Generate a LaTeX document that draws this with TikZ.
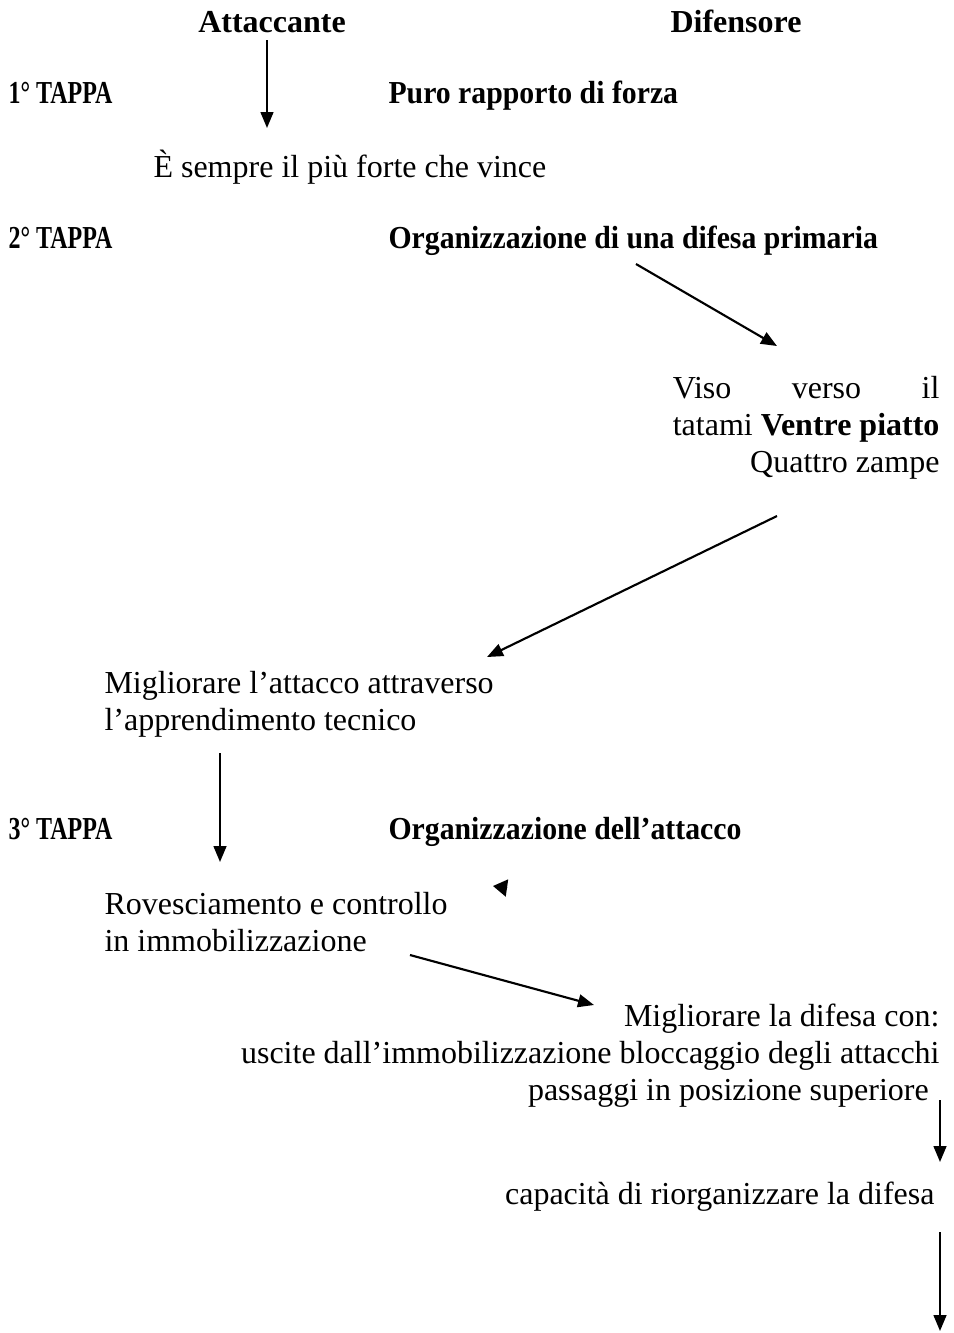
\documentclass[tikz,border=0pt]{standalone}
\usepackage{fontspec}
\setmainfont{Liberation Serif}
\newfontfamily\tappafont{Liberation Serif}[FakeStretch=0.75]
\newfontfamily\titolofont{Liberation Serif}[FakeStretch=0.93]
\usepackage{tikz}
\usetikzlibrary{arrows.meta}
\newlength\visow

\begin{document}
\settowidth{\visow}{\fontsize{12}{13.8}\selectfont tatami \textbf{Ventre piatto}}
\begin{tikzpicture}[x=0.375pt,y=-0.375pt,
    testo/.style={inner sep=0pt, font=\fontsize{12}{13.8}\selectfont},
    colonna/.style={inner sep=0pt, anchor=base, font=\fontsize{12}{13.8}\selectfont\bfseries},
    tappa/.style={inner sep=0pt, anchor=base west, font=\fontsize{12}{13.8}\selectfont\tappafont\bfseries},
    titolo/.style={inner sep=0pt, anchor=base west, font=\fontsize{12}{13.8}\selectfont\titolofont\bfseries},
    freccia/.style={line width=0.8pt, -{Triangle[length=6pt,width=4.8pt]}}]
  \useasboundingbox (0,0) rectangle (954,1333);

  \node[colonna] (att) at (272,32) {Attaccante};
  \node[colonna] (dif) at (736,32) {Difensore};

  \node[tappa] (t_1) at (8,103) {1° TAPPA};
  \node[titolo] (f_1) at (388,103) {Puro rapporto di forza};
  \node[testo, anchor=base west] (vince) at (153,177) {È sempre il più forte che vince};

  \node[tappa] (t_2) at (8,248) {2° TAPPA};
  \node[titolo] (f_2) at (388,248) {Organizzazione di una difesa primaria};
  % ancora base = ultima riga
  \node[testo, anchor=base east, align=right] (viso) at (940,472)
    {\makebox[\visow][s]{Viso verso il}\\tatami \textbf{Ventre piatto}\\Quattro zampe};
  \node[testo, anchor=base west, align=left] (tecnica) at (104,730)
    {Migliorare l’attacco attraverso\\l’apprendimento tecnico};

  \node[tappa] (t_3) at (8,839) {3° TAPPA};
  \node[titolo] (f_3) at (388,839) {Organizzazione dell’attacco};
  \node[testo, anchor=base west, align=left] (rovescio) at (104,951)
    {Rovesciamento e controllo\\in immobilizzazione};
  \node[testo, anchor=base east, align=right] (difesa) at (940,1100)
    {Migliorare la difesa con:\\uscite dall’immobilizzazione bloccaggio degli attacchi\\passaggi in posizione superiore\hspace*{4pt}};
  \node[testo, anchor=base east] (riorg) at (935,1204) {capacità di riorganizzare la difesa};

  % estremi delle frecce
  \coordinate (a_1) at (267,40);   \coordinate (b_1) at (267,128);
  \coordinate (a_2) at (636,264);  \coordinate (b_2) at (777,346);
  \coordinate (a_3) at (777,516);  \coordinate (b_3) at (487,657);
  \coordinate (a_4) at (220,753);  \coordinate (b_4) at (220,862);
  \coordinate (a_5) at (410,955);  \coordinate (b_5) at (594,1005);
  \coordinate (a_6) at (940,1100); \coordinate (b_6) at (940,1162);
  \coordinate (a_7) at (940,1232); \coordinate (b_7) at (940,1331);
  \foreach \i in {1,...,7}
    \draw[freccia] (a_\i) -- (b_\i);

  % punta isolata
  \coordinate (p_0) at (507,888); \coordinate (q_0) at (493,886);
  \draw[line width=0.8pt, -{Triangle[length=5.3pt,width=6.4pt]}] (p_0) -- (q_0);
\end{tikzpicture}
\end{document}
